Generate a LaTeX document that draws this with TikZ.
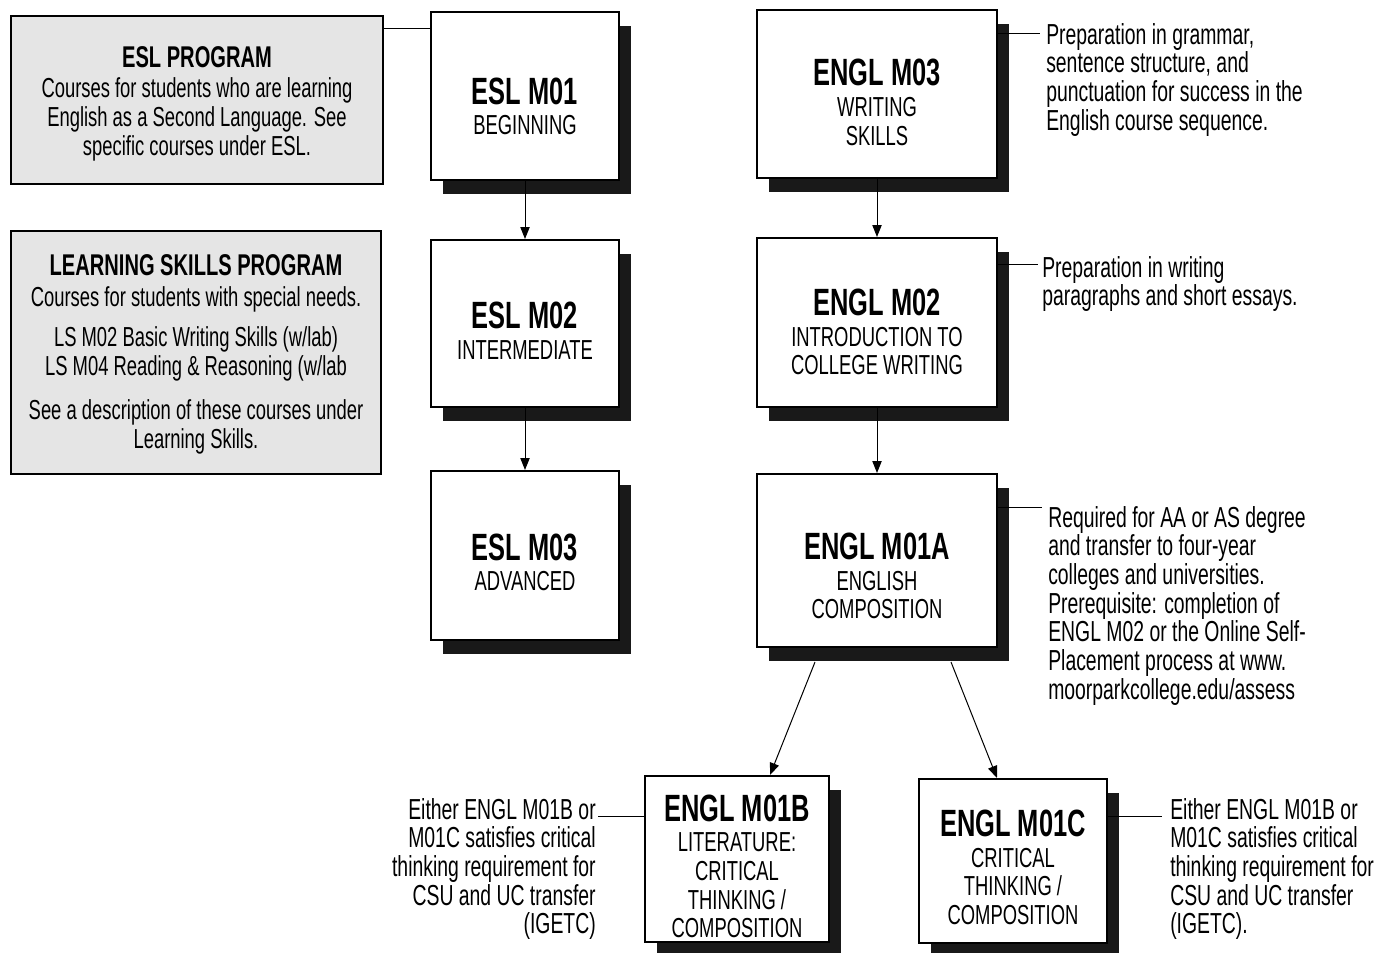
\documentclass[tikz,border=0pt]{standalone}
\usepackage{fontspec}
\setmainfont{Liberation Sans}[FakeStretch=0.67]
\usetikzlibrary{arrows.meta,shadows}
\newcommand{\crshead}{\fontsize{28.5}{30}\selectfont\bfseries}
\newcommand{\proghead}{\fontsize{22.5}{24}\selectfont\bfseries}
\begin{document}
\begin{tikzpicture}[x=0.75pt,y=-0.75pt,
    txt/.style={font=\fontsize{20.6}{21.5}\selectfont, inner sep=0pt},
    program/.style={txt, draw, line width=1.2pt, fill=black!10, align=center},
    course/.style={draw, line width=1.5pt, fill=white,
      general shadow={fill=black!90, shadow xshift=9pt, shadow yshift=-10.5pt}},
    crstext/.style={txt, align=center},
    note/.style={txt, font=\fontsize{21.7}{21.5}\selectfont, align=left, anchor=north west},
    link/.style={line width=0.75pt},
    flow/.style={link, -{Triangle[length=9pt,width=7pt]}}]
  \useasboundingbox (0,0) rectangle (1379,953);

  % programs
  \node[program, minimum width=279pt, minimum height=126pt] (eslprog) at (197,100) {};
  \node[txt, align=center] (eslprogtxt) at (197,104)
    {{\proghead ESL PROGRAM}\\[1pt]Courses for students who are learning\\
     English as a Second Language. See\\specific courses under ESL.};
  \node[program, minimum width=277.5pt, minimum height=182.25pt] (lsprog) at (196,352.5) {};
  \node[txt, align=center] (lsprogtxt) at (196,354.5)
    {{\proghead LEARNING SKILLS PROGRAM}\\[1.75pt]Courses for students with special needs.\\[8.5pt]
     LS M02 Basic Writing Skills (w/lab)\\LS M04 Reading \& Reasoning (w/lab\\[11.5pt]
     See a description of these courses under\\Learning Skills.};

  % courses
  \node[course, minimum width=141pt, minimum height=126pt] (esl1) at (525,96) {};
  \node[course, minimum width=141pt, minimum height=125.25pt] (esl2) at (525,323.5) {};
  \node[course, minimum width=141pt, minimum height=126.75pt] (esl3) at (525,555.5) {};
  \node[course, minimum width=180pt, minimum height=126pt] (engl3) at (877,94) {};
  \node[course, minimum width=180pt, minimum height=126.75pt] (engl2) at (877,322.5) {};
  \node[course, minimum width=180pt, minimum height=129.75pt] (engl1a) at (877,560.5) {};
  \node[course, minimum width=138pt, minimum height=124.5pt] (engl1b) at (737,859) {};
  \node[course, minimum width=141pt, minimum height=123pt] (engl1c) at (1013,861) {};

  \node[crstext] (esl1txt) at (525,106.5) {{\crshead ESL M01}\\[1.5pt]BEGINNING};
  \node[crstext] (esl2txt) at (525,331) {{\crshead ESL M02}\\[1.5pt]INTERMEDIATE};
  \node[crstext] (esl3txt) at (525,562.5) {{\crshead ESL M03}\\[1.5pt]ADVANCED};
  \node[crstext] (engl3txt) at (877,102.5) {{\crshead ENGL M03}\\[1.5pt]WRITING\\SKILLS};
  \node[crstext] (engl2txt) at (877,332)
    {{\crshead ENGL M02}\\[1.5pt]INTRODUCTION TO\\COLLEGE WRITING};
  \node[crstext] (engl1atxt) at (877,576) {{\crshead ENGL M01A}\\[1.5pt]ENGLISH\\COMPOSITION};
  \node[crstext] (engl1btxt) at (737,866.5)
    {{\crshead ENGL M01B}\\[1.5pt]LITERATURE:\\CRITICAL\\THINKING /\\COMPOSITION};
  \node[crstext] (engl1ctxt) at (1013,867.5)
    {{\crshead ENGL M01C}\\[1.5pt]CRITICAL\\THINKING /\\COMPOSITION};

  % notes
  \node[note] (engl3note) at (1046,23)
    {Preparation in grammar,\\sentence structure, and\\punctuation for success in the\\English course sequence.};
  \node[note] (engl2note) at (1042,256) {Preparation in writing\\paragraphs and short essays.};
  \node[note] (engl1anote) at (1048,506)
    {Required for AA or AS degree\\and transfer to four-year\\colleges and universities.\\
     Prerequisite: completion of\\ENGL M02 or the Online Self-\\Placement process at www.\\
     moorparkcollege.edu/assess};
  \node[note, align=right, anchor=north east] (engl1bnote) at (596,798)
    {Either ENGL M01B or\\M01C satisfies critical\\thinking requirement for\\CSU and UC transfer\\(IGETC)};
  \node[note] (engl1cnote) at (1170,798)
    {Either ENGL M01B or\\M01C satisfies critical\\thinking requirement for\\CSU and UC transfer\\(IGETC).};

  \coordinate (eslhook) at (383,28);
  \coordinate (engl3hook) at (1040,33);
  \coordinate (engl2hook) at (1038,264);
  \coordinate (engl1ahook) at (1042,507);
  \coordinate (engl1bhook) at (598,816);
  \coordinate (engl1chook) at (1162,816);

  \draw[link] (eslhook) -- (eslhook -| esl1.west);
  \draw[link] (engl3.east |- engl3hook) -- (engl3hook);
  \draw[link] (engl2.east |- engl2hook) -- (engl2hook);
  \draw[link] (engl1a.east |- engl1ahook) -- (engl1ahook);
  \draw[link] (engl1bhook) -- (engl1bhook -| engl1b.west);
  \draw[link] (engl1c.east |- engl1chook) -- (engl1chook);

  \draw[flow] (esl1.south) -- (esl2.north);
  \draw[flow] (esl2.south) -- (esl3.north);
  \draw[flow] (engl3.south) -- (engl2.north);
  \draw[flow] (engl2.south) -- (engl1a.north);
  \draw[flow] ([shift={(-62,14)}]engl1a.south) -- ([xshift=24.75pt]engl1b.north);
  \draw[flow] ([shift={(74,14)}]engl1a.south) -- ([xshift=-12pt]engl1c.north);
\end{tikzpicture}
\end{document}
